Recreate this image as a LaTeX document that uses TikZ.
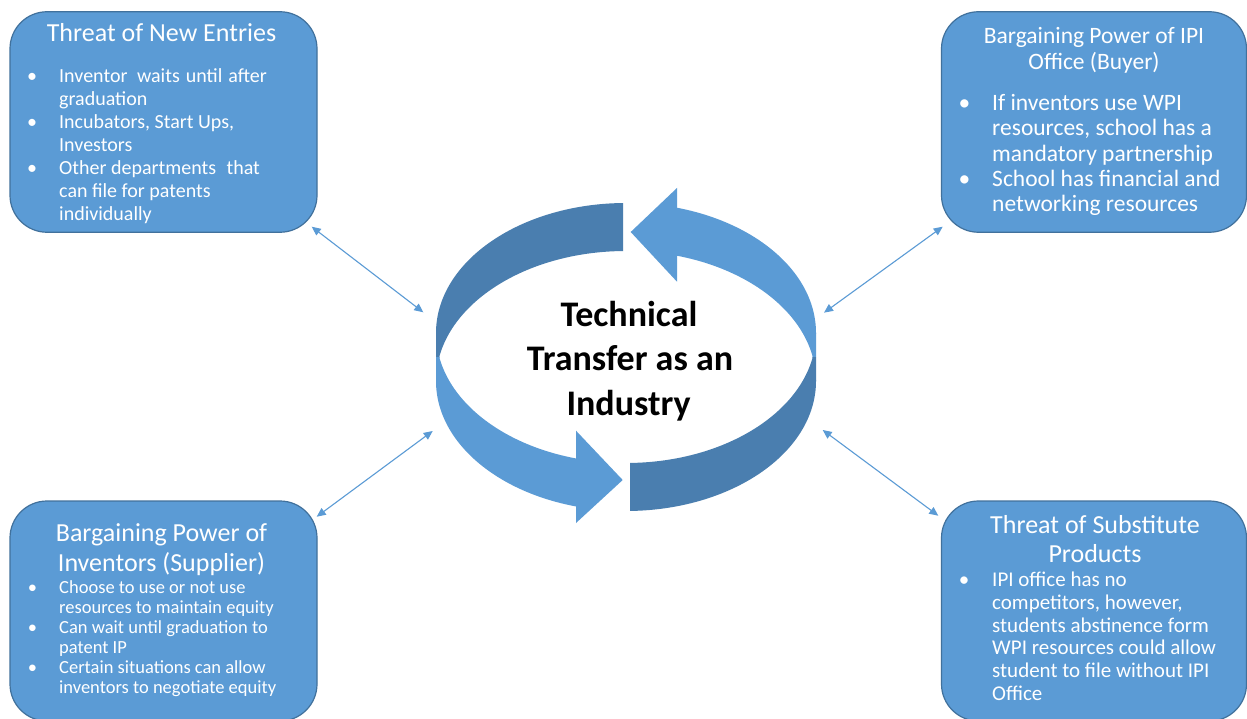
\documentclass[tikz,border=0pt]{standalone}
\usepackage{fontspec}
\setmainfont{Carlito}
\usetikzlibrary{arrows.meta}
\definecolor{boxblue}{HTML}{5B9BD5}
\definecolor{boxline}{HTML}{41719C}
\definecolor{ringdark}{HTML}{4A7EAF}
\begin{document}
\begin{tikzpicture}[x=1pt,y=-1pt,
  box/.style={draw=boxline, line width=1.2pt, fill=boxblue, rounded corners=37pt, inner sep=0pt},
  txt/.style={inner sep=0pt, anchor=base west, text=white},
  ttl/.style={inner sep=0pt, anchor=base, text=white},
  bul/.style={inner sep=0pt, anchor=base, text=white},
  ctr/.style={inner sep=0pt, anchor=base, text=black, font=\fontsize{36}{45}\selectfont\bfseries},
  conn/.style={draw=boxblue, line width=1.1pt, {Triangle[length=9pt,width=8pt]}-{Triangle[length=9pt,width=8pt]}}
]
\useasboundingbox (0,0) rectangle (1247,719);
\fill[white] (0,0) rectangle (1247,719);

% ---------- boxes ----------
\node[box, minimum width=307pt, minimum height=220.5pt] (tl) at (163.5,122) {};
\node[box, minimum width=305pt, minimum height=220.5pt] (tr) at (1094,122) {};
\node[box, minimum width=307pt, minimum height=220pt] (bl) at (163.5,611) {};
\node[box, minimum width=305pt, minimum height=220pt] (br) at (1094,611) {};

% ---------- central ring ----------
\begin{scope}
  \clip (0,0) rectangle (623,357);
  \fill[ringdark, even odd rule] (626,333) ellipse [x radius=190pt, y radius=130pt] (626,381) ellipse [x radius=190pt, y radius=130pt];
\end{scope}
\begin{scope}
  \clip (677,0) rectangle (1247,357);
  \fill[boxblue, even odd rule] (626,333) ellipse [x radius=190pt, y radius=130pt] (626,381) ellipse [x radius=190pt, y radius=130pt];
\end{scope}
\begin{scope}
  \clip (0,357) rectangle (576,719);
  \fill[boxblue, even odd rule] (626,333) ellipse [x radius=190pt, y radius=130pt] (626,381) ellipse [x radius=190pt, y radius=130pt];
\end{scope}
\begin{scope}
  \clip (630,357) rectangle (1247,719);
  \fill[ringdark, even odd rule] (626,333) ellipse [x radius=190pt, y radius=130pt] (626,381) ellipse [x radius=190pt, y radius=130pt];
\end{scope}
\fill[ringdark] (436,333) -- (439.3,357) -- (436,357) -- cycle;
\fill[boxblue] (436,357) -- (439.3,357) -- (436,381) -- cycle;
\fill[boxblue] (816,333) -- (812.7,357) -- (816,357) -- cycle;
\fill[ringdark] (816,357) -- (812.7,357) -- (816,381) -- cycle;
% arrow heads
\fill[boxblue] (677,188) -- (630.7,232) -- (677,281.7) -- cycle;
\fill[boxblue] (576,430.7) -- (622.7,480) -- (576,523) -- cycle;

% ---------- central text ----------
\node[ctr] (c1) at (629,326) {Technical};
\node[ctr] (c2) at (630,370.7) {Transfer as an};
\node[ctr] (c3) at (628.5,415) {Industry};

% ---------- connectors ----------
\coordinate (tlend) at (311.7,226.7);
\coordinate (ringtl) at (423.3,312.3);
\coordinate (trend) at (942.7,226.7);
\coordinate (ringtr) at (824,312.7);
\coordinate (blend) at (316.7,516.7);
\coordinate (ringbl) at (432.7,431);
\coordinate (brend) at (938.3,515.7);
\coordinate (ringbr) at (822.7,430);
\draw[conn] (tlend) -- (ringtl);
\draw[conn] (trend) -- (ringtr);
\draw[conn] (blend) -- (ringbl);
\draw[conn] (brend) -- (ringbr);

% ---------- top left ----------
\node[ttl, font=\fontsize{26}{29}\selectfont] (tlt) at (161.5,42) {Threat of New Entries};
\begin{scope}[font=\fontsize{20}{23}\selectfont]
\foreach \t [count=\i from 0] in {{Inventor\hspace{5pt} waits\hspace{1.5pt} until\hspace{1.5pt} after},{graduation},{Incubators, Start Ups,},{Investors},{Other departments\hspace{6pt} that},{can file for patents},{individually}}
  \node[txt] (tll\i) at (59,82.7+22.9*\i) {\t};
\foreach \k in {0,2,4}
  \node[bul] (tlb\k) at (32,82.7+22.9*\k) {•};
\end{scope}

% ---------- top right ----------
\node[ttl, font=\fontsize{23.5}{26}\selectfont] (trt1) at (1094,43.3) {Bargaining Power of IPI};
\node[ttl, font=\fontsize{23.5}{26}\selectfont] (trt2) at (1094,69.5) {Office (Buyer)};
\begin{scope}[font=\fontsize{23.5}{26}\selectfont]
\foreach \t [count=\i from 0] in {{If inventors use WPI},{resources, school has a},{mandatory partnership},{School has financial and},{networking resources}}
  \node[txt] (trl\i) at (992,110.7+25.3*\i) {\t};
\foreach \k in {0,3}
  \node[bul] (trb\k) at (964.5,110.7+25.3*\k) {•};
\end{scope}

% ---------- bottom left ----------
\node[ttl, font=\fontsize{26}{29}\selectfont] (blt1) at (161.5,541.7) {Bargaining Power of};
\node[ttl, font=\fontsize{26}{29}\selectfont] (blt2) at (161.5,571) {Inventors (Supplier)};
\begin{scope}[font=\fontsize{18.5}{20}\selectfont]
\foreach \t [count=\i from 0] in {{Choose to use or not use},{resources to maintain equity},{Can wait until graduation to},{patent IP},{Certain situations can allow},{inventors to negotiate equity}}
  \node[txt] (bll\i) at (59,593.3+20.06*\i) {\t};
\foreach \k in {0,2,4}
  \node[bul] (blb\k) at (32.5,593.3+20.06*\k) {•};
\end{scope}

% ---------- bottom right ----------
\node[ttl, font=\fontsize{26}{29}\selectfont] (brt1) at (1095,533) {Threat of Substitute};
\node[ttl, font=\fontsize{26}{29}\selectfont] (brt2) at (1095,562.5) {Products};
\begin{scope}[font=\fontsize{21}{23}\selectfont]
\foreach \t [count=\i from 0] in {{IPI office has no},{competitors, however,},{students abstinence form},{WPI resources could allow},{student to file without IPI},{Office}}
  \node[txt] (brl\i) at (992,586.7+22.7*\i) {\t};
\node[bul] (brb0) at (964,586.7) {•};
\end{scope}
\end{tikzpicture}
\end{document}
